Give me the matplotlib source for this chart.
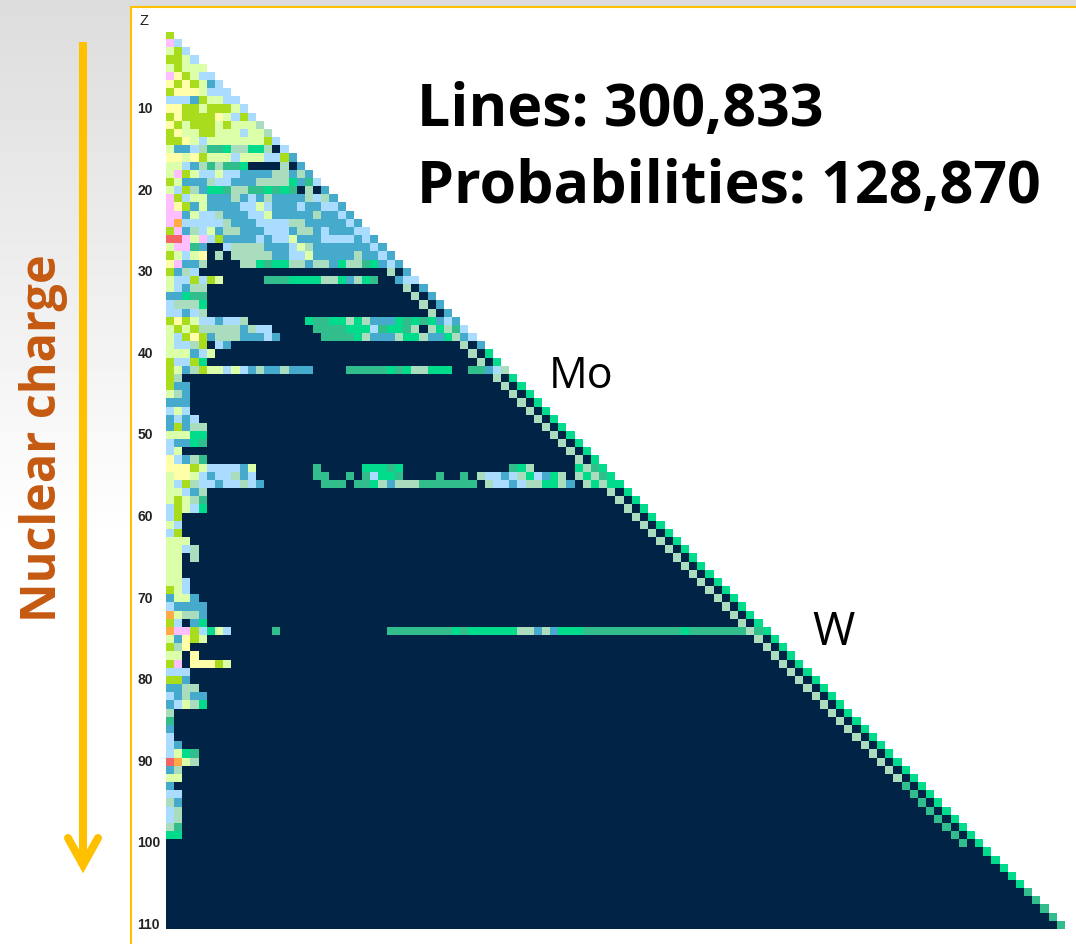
import numpy as np
import matplotlib
matplotlib.use('Agg')
import matplotlib.pyplot as plt
from matplotlib.colors import ListedColormap
from matplotlib.patches import Rectangle

# one letter per transition-data class
class_codes = 'ngsmtblyapor'
class_colors = ['#002346', '#00DC8C', '#32BE8C', '#AADCBE', '#46AACD', '#AADCFF',
                '#DCFFAA', '#FFFFAA', '#AADC1E', '#FFBEFF', '#FFAA46', '#F56464']

n_elements = 110
z_ticks = [10, 20, 30, 40, 50, 60, 70, 80, 90, 100, 110]

# cells from the first column on, one string per Z
left_cells = [
    'a', 'pb', 'lab', 'aalb', 'lalll', 'pyalbb', 'yayaltb', 'ayyylbbb', 'bbbtallbb', 'yyaalaaalb',
    'ayaaaaylbab', 'yalaaalalllm', 'ayllaalllbllm', 'aaylblllllllab', 'lttbmssgmmggmnb',
    'yylyalllblllbbat', 'llbtmsmssgnnnnmnt', 'lpalbblbbttttmmtmt', 'altttmbbtttmmmmgtsb',
    'lbamtggsmmssgsgsnmnt', 'pablltttmtbtmttttmbmt', 'pyatlttttbblbtttbttbbt',
    'pptlbbmtttbbltttttmttbt', 'pobbbbbmtttbbbbmmtttttbt', 'aptmbltmmtttbbbtmmtbtttbb',
    'rrplpbattttbtbbltttbbbbtbt', 'lppstnnbmmmmtttblmtttttttbt', 'alblynmnmmmmmttbbltttttmttbt',
    'ypttmnnnnmmgsggmmtmmtgmmsgtbt', 'atmb', 'lbbabal', 'lbtmm', 'ttgss', 'bmmmg', 'bbtbm',
    'ayalbbtbbm', 'lalammmmmtmbb', 'lbayatmmmtttbt', 'lbbmanbt', 'llltbl', 'abbag',
    'altmallblbtmttmttt', 'am', 'att', 'lmt', 'ttt', 'blb', 'tbtb', 'tatmm', 'lllgg', 'bttgs',
    'bl', 'ybtms', 'yyyalbbbbtl', 'lyylbtbbmtb', 'lbambbtbbmbt', 'llbtm', 'lalms', 'balbg', 'ba',
    'lb', 'ba', 'lll', 'llbm', 'llnm', 'll', 'll', 'llb', 'alb', 'tllt', 'btttt', 'olmmt', 'abntg',
    'oppabglb', 'ltyal', 'amy', 'llny', 'apnyyyal', 'bbb', 'aat', 'ttmm', 'btmtt', 'tblmg', 'm',
    's', 't', 'b', 'bt', 'blgs', 'rolm', 'tm', 'll', 't', 'bb', 'mt', 'bm', 'bm', 'ms', 'gg',
]

# Z: (first column, cells) for the groups further right
right_cells = {
    30: [(28, 'mnt')],
    31: [(13, 'sssggggmmgtmgsnntbb')],
    32: [(30, 'mnt')],
    33: [(31, 'mnt')],
    34: [(32, 'mnt')],
    35: [(33, 'mnt')],
    36: [(18, 'gssggmgmtttgsgsgtbt')],
    37: [(19, 'ssssgggbsggsmnmgmsb')],
    38: [(20, 'ssssgmtttmggmttgmtb')],
    39: [(37, 'mnt')],
    40: [(38, 'mng')],
    41: [(39, 'mng')],
    42: [(23, 'sssssgsgmmgggnnsstbm')],
    54: [(19, 's'), (25, 'gggsg'), (43, 'sgm'), (51, 'gmsg')],
    55: [(19, 'ss'), (23, 's'), (25, 'sbggs'), (34, 's'), (37, 's'),
         (39, 'mbbtbmgbtgm'), (51, 'mgmsg')],
    56: [(20, 'sss'), (24, 'ssgmtmmmsssssss'), (40, 'mbbtbmmggmt'), (52, 'mgmgg')],
    74: [(14, 's'), (28, 'ssssssssgsggggggmmtmtggg'),
         (52, 'ssssssssssssgsssssssms'), (74, 'g')],
}

# the two stripes along the edge, first entry is Z=43
edge_cells = ('ggggggggggggggggggggggggggggggggggggggggggggggggggggggggggggggg'
              'sssss')
near_edge_cells = ('mmmmmmmmmmmmmmmmmmmmmmmmmmmmmmmmmmmmmmmmmmmmmmmmmm'
                   'ssssssss')

# cell matrix, -1 is outside the triangle
grid = np.full((n_elements, n_elements), -1)
for z in range(1, n_elements + 1):
    grid[z - 1, :z] = 0
for i, cell in enumerate(near_edge_cells):
    z = 43 + i
    grid[z - 1, z - 3] = class_codes.index(cell)
for i, cell in enumerate(edge_cells):
    z = 43 + i
    grid[z - 1, z - 1] = class_codes.index(cell)
for i, cells in enumerate(left_cells):
    for j, cell in enumerate(cells):
        grid[i, j] = class_codes.index(cell)
for z, groups in right_cells.items():
    for start, cells in groups:
        for j, cell in enumerate(cells):
            grid[z - 1, start - 1 + j] = class_codes.index(cell)

W, H = 1076, 944
fig = plt.figure(figsize=(W / 100, H / 100), dpi=100)

# slide background, pixel coordinates
bg = fig.add_axes([0, 0, 1, 1])
bg.set_xlim(0, W)
bg.set_ylim(H, 0)
bg.axis('off')
shade = np.clip((np.linspace(0.865, 1.1, H)), 0, 1).reshape(-1, 1)
bg.imshow(shade, cmap='gray', vmin=0, vmax=1, extent=(0, W, H, 0), aspect='auto')
bg.add_patch(Rectangle((131, 6.5), W, H, facecolor='white', edgecolor='#FFC000', linewidth=1.5))

# arrow and labels
bg.plot([83, 83], [42, 860], color='#FFC000', lw=5.8, solid_capstyle='butt')
bg.plot([68, 83, 98], [838, 865, 838], color='#FFC000', lw=5.8,
        solid_capstyle='round', solid_joinstyle='miter')
bg.text(56, 438, 'Nuclear charge', rotation=90, rotation_mode='anchor', ha='center', va='baseline',
        color='#C55A11', fontsize=35, fontweight='bold', family='Open Sans')
bg.text(417, 126, 'Lines: 300,833', fontsize=42.6, fontweight='bold', family='Open Sans', color='black')
bg.text(417, 203, 'Probabilities: 128,870', fontsize=42.6, fontweight='bold', family='Open Sans', color='black')
bg.text(549, 388, 'Mo', fontsize=31, family='Open Sans', color='black')
bg.text(812, 645, 'W', fontsize=33, family='Open Sans', color='black')
bg.text(139, 25, 'Z', fontsize=10.5, family='Liberation Sans', color='#222222')

# the triangle
ax = fig.add_axes([166 / W, 1 - 929.3 / H, 898.4 / W, 897.6 / H])
ax.patch.set_alpha(0)
cmap = ListedColormap(class_colors)
ax.imshow(np.ma.masked_less(grid, 0), cmap=cmap, vmin=0, vmax=len(class_colors) - 1,
          extent=(0.5, n_elements + 0.5, n_elements + 0.5, 0.5), aspect='auto', interpolation='nearest')
for side in 'top right left bottom'.split():
    ax.spines[side].set_visible(False)
ax.set_xticks([])
ax.set_yticks([z - 0.2 for z in z_ticks])
ax.set_yticklabels(z_ticks, ha='left', fontsize=10, fontweight='bold', family='Liberation Sans', color='#222222')
ax.tick_params(axis='y', length=0, pad=20.6)

fig.savefig('out.png', dpi=100)
